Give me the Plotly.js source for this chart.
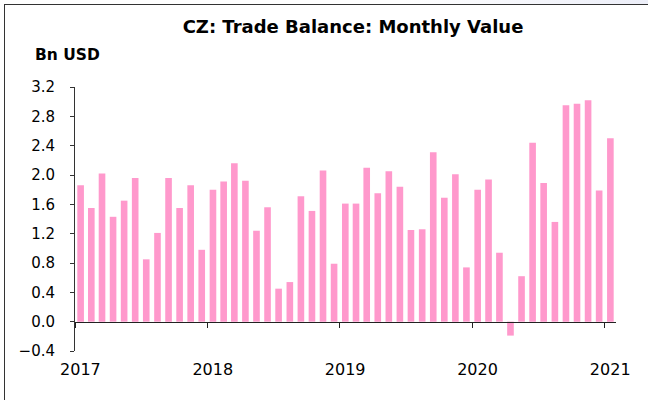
<!DOCTYPE html>
<html>
<head>
<meta charset="utf-8">
<script src="https://cdn.plot.ly/plotly-3.0.1.min.js"></script>
<style>
html,body{margin:0;padding:0;background:#fff;}
#wrap{position:relative;width:648px;height:400px;overflow:hidden;background:#fff;}
#band{position:absolute;left:0;top:0;width:648px;height:4px;background:linear-gradient(to right,#ffffff 0%,#ffffff 62%,#eceef8 100%);}
#chart{position:absolute;left:0;top:0;width:648px;height:400px;}
#frame{position:absolute;left:4px;top:4px;width:650px;height:400px;border-left:1px solid #333;border-top:1px solid #333;pointer-events:none;}
</style>
</head>
<body>
<div id="wrap"><div id="band"></div><div id="chart"></div><div id="frame"></div></div>
<script>
const months = [
 '2017-01','2017-02','2017-03','2017-04','2017-05','2017-06','2017-07','2017-08','2017-09','2017-10','2017-11','2017-12',
 '2018-01','2018-02','2018-03','2018-04','2018-05','2018-06','2018-07','2018-08','2018-09','2018-10','2018-11','2018-12',
 '2019-01','2019-02','2019-03','2019-04','2019-05','2019-06','2019-07','2019-08','2019-09','2019-10','2019-11','2019-12',
 '2020-01','2020-02','2020-03','2020-04','2020-05','2020-06','2020-07','2020-08','2020-09','2020-10','2020-11','2020-12',
 '2021-01'
];
const tradeBalance = [
 1.86,1.55,2.02,1.43,1.65,1.96,0.85,1.21,1.96,1.55,1.86,0.98,
 1.80,1.91,2.16,1.92,1.24,1.56,0.45,0.54,1.71,1.51,2.06,0.79,
 1.61,1.61,2.10,1.75,2.05,1.84,1.25,1.26,2.31,1.69,2.01,0.74,
 1.80,1.94,0.94,-0.19,0.62,2.44,1.89,1.36,2.95,2.97,3.02,1.79,
 2.50
];
const yearTicks = ['2017-01-01','2018-01-01','2019-01-01','2020-01-01','2021-01-01'];
const yearLabelPos = ['2017-01-16','2018-01-16','2019-01-16','2020-01-16','2021-01-16'];
const yearLabels = ['2017','2018','2019','2020','2021'];

const font = 'DejaVu Sans, Liberation Sans, Arial, sans-serif';
const monthMs = 30.44*86400000;

const trace = {
  type: 'bar',
  x: months,
  y: tradeBalance,
  xperiod: 'M1',
  xperiodalignment: 'middle',
  width: months.map(() => 0.6*monthMs),
  marker: {color: '#ff99cc', line: {width: 0}},
  hoverinfo: 'x+y'
};

const xr = ['2017-01-01','2021-02-01'];
const layout = {
  width: 648, height: 400,
  margin: {l: 75, r: 32, t: 87, b: 49},
  paper_bgcolor: 'rgba(0,0,0,0)',
  plot_bgcolor: 'rgba(0,0,0,0)',
  showlegend: false,
  font: {family: font, size: 15, color: '#000'},
  title: {
    text: '<b>CZ: Trade Balance: Monthly Value</b>',
    font: {family: font, size: 18, color: '#000'},
    xref: 'container', x: 353/648, xanchor: 'center',
    yref: 'container', y: 1 - 27/400, yanchor: 'middle'
  },
  annotations: [{
    text: '<b>Bn USD</b>', xref: 'paper', yref: 'paper',
    x: (33-75)/541, y: 1 + (87-55)/264, xanchor: 'left', yanchor: 'middle',
    showarrow: false, font: {family: font, size: 15.5, color: '#000'}
  }],
  xaxis: {
    type: 'date', range: xr,
    anchor: 'free', position: 0.4/3.6,
    showline: true, linecolor: '#222', linewidth: 1,
    ticks: 'outside', ticklen: 5, tickcolor: '#222',
    tickvals: yearTicks, showticklabels: false,
    showgrid: false, zeroline: false, fixedrange: true
  },
  xaxis2: {
    type: 'date', range: xr, overlaying: 'x', matches: 'x',
    anchor: 'y', side: 'bottom',
    showline: false, ticks: '', tickvals: yearLabelPos, ticktext: yearLabels,
    ticklabelstandoff: 7,
    tickfont: {family: font, size: 16, color: '#000'},
    showgrid: false, zeroline: false
  },
  yaxis: {
    range: [-0.4, 3.2], dtick: 0.4, tick0: 0, tickformat: '.1f',
    showline: true, linecolor: '#333', linewidth: 1,
    ticks: 'outside', ticklen: 4, tickcolor: '#333',
    ticklabelstandoff: 12,
    tickfont: {family: font, size: 15, color: '#000'},
    showgrid: false, zeroline: false
  },
  bargap: 0.4
};

Plotly.newPlot('chart', [trace, {type:'scatter', x: xr, y: [null,null], xaxis:'x2', yaxis:'y', hoverinfo:'skip', showlegend:false}], layout, {displayModeBar: false, staticPlot: true});
</script>
</body>
</html>
